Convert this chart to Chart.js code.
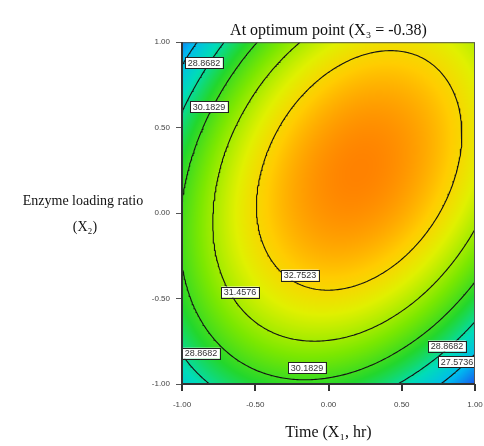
<!DOCTYPE html>
<html>
<head>
<meta charset="utf-8">
<script src="https://cdn.jsdelivr.net/npm/chart.js@4.4.1/dist/chart.umd.min.js"></script>
<style>
html, body { margin: 0; padding: 0; background: #fff; }
</style>
</head>
<body>
<canvas id="chart" width="484" height="446"></canvas>
<script>
// response on a 0.25 mesh, X1 (time) across, X2 (enzyme ratio) up
const gridX = [-1, -0.75, -0.5, -0.25, 0, 0.25, 0.5, 0.75, 1];
const gridY = [-1, -0.75, -0.5, -0.25, 0, 0.25, 0.5, 0.75, 1];
// one row per gridY value, bottom row first
const response = [
  [28.10, 29.08, 29.72, 30.01, 29.95, 29.54, 28.77, 27.66, 26.20],
  [29.16, 30.25, 31.00, 31.39, 31.43, 31.13, 30.47, 29.47, 28.11],
  [29.87, 31.07, 31.92, 32.42, 32.57, 32.37, 31.82, 30.92, 29.67],
  [30.23, 31.54, 32.49, 33.10, 33.36, 33.26, 32.82, 32.02, 30.88],
  [30.24, 31.65, 32.72, 33.43, 33.79, 33.80, 33.47, 32.78, 31.74],
  [29.90, 31.42, 32.59, 33.41, 33.88, 34.00, 33.76, 33.18, 32.25],
  [29.21, 30.84, 32.11, 33.04, 33.61, 33.84, 33.71, 33.24, 32.41],
  [28.17, 29.90, 31.29, 32.32, 33.00, 33.33, 33.31, 32.94, 32.22],
  [26.78, 28.62, 30.11, 31.25, 32.03, 32.47, 32.56, 32.30, 31.68]
];
const levels = [27.5736, 28.8682, 30.1829, 31.4576, 32.7523];
const tickVals = [-1, -0.5, 0, 0.5, 1];

// contour labels, placed where the original puts them
const labelText = ['28.8682', '30.1829', '31.4576', '32.7523', '28.8682', '30.1829', '28.8682', '27.5736'];
const labelX = [-0.85, -0.816, -0.604, -0.195, -0.87, -0.147, 0.809, 0.877];
const labelY = [0.88, 0.623, -0.462, -0.363, -0.82, -0.906, -0.778, -0.871];

// colour ramp (value -> rgb)
const colorStops = [
  [26.2, [25, 85, 235]],
  [27.4, [0, 185, 240]],
  [28.6, [0, 220, 185]],
  [29.8, [35, 215, 45]],
  [31.0, [125, 232, 0]],
  [32.2, [225, 240, 0]],
  [33.0, [255, 205, 0]],
  [34.0, [255, 130, 0]]
];

// pad the mesh by one on every side (quadratic extrapolation) for the cubic smoothing
function padGrid(g) {
  const rows = g.map(function(r) {
    const n = r.length;
    return [3*r[0] - 3*r[1] + r[2]].concat(r, [3*r[n-1] - 3*r[n-2] + r[n-3]]);
  });
  const m = rows.length;
  const first = rows[0].map(function(v, i) { return 3*v - 3*rows[1][i] + rows[2][i]; });
  const last = rows[m-1].map(function(v, i) { return 3*v - 3*rows[m-2][i] + rows[m-3][i]; });
  return [first].concat(rows, [last]);
}
const padded = padGrid(response);

function cr(p0, p1, p2, p3, t) {
  return 0.5 * (2*p1 + (p2 - p0)*t + (2*p0 - 5*p1 + 4*p2 - p3)*t*t + (3*p1 - p0 - 3*p2 + p3)*t*t*t);
}

function valueAt(x, y) {
  const step = gridX[1] - gridX[0];
  const gx = (x - gridX[0]) / step, gy = (y - gridY[0]) / step;
  const i = Math.max(0, Math.min(Math.floor(gx), gridX.length - 2));
  const j = Math.max(0, Math.min(Math.floor(gy), gridY.length - 2));
  const tx = gx - i, ty = gy - j;
  const col = [];
  for (let k = 0; k < 4; k++) {
    const r = padded[j + k];
    col.push(cr(r[i], r[i+1], r[i+2], r[i+3], tx));
  }
  return cr(col[0], col[1], col[2], col[3], ty);
}

function colorFor(v) {
  if (v <= colorStops[0][0]) return colorStops[0][1];
  for (let k = 1; k < colorStops.length; k++) {
    if (v <= colorStops[k][0]) {
      const a = colorStops[k-1], b = colorStops[k];
      const t = (v - a[0]) / (b[0] - a[0]);
      return [0, 1, 2].map(function(c) { return a[1][c] + (b[1][c] - a[1][c]) * t; });
    }
  }
  return colorStops[colorStops.length - 1][1];
}

// fine mesh for tracing the contour lines
const N = 160;
const x0 = gridX[0], x1 = gridX[gridX.length - 1];
const y0 = gridY[0], y1 = gridY[gridY.length - 1];
function mx(i) { return x0 + i * (x1 - x0) / N; }
function my(j) { return y0 + j * (y1 - y0) / N; }
const mesh = [];
for (let j = 0; j <= N; j++) {
  mesh.push([]);
  for (let i = 0; i <= N; i++) mesh[j].push(valueAt(mx(i), my(j)));
}

function traceLevel(L) {
  const adj = {};
  const link = function(a, b) {
    (adj[a] = adj[a] || []).push(b);
    (adj[b] = adj[b] || []).push(a);
  };
  const up = function(v) { return v >= L; };
  for (let j = 0; j < N; j++) {
    for (let i = 0; i < N; i++) {
      const bl = mesh[j][i], br = mesh[j][i+1], tr = mesh[j+1][i+1], tl = mesh[j+1][i];
      const eB = 'h' + i + '_' + j, eR = 'v' + (i+1) + '_' + j, eT = 'h' + i + '_' + (j+1), eL = 'v' + i + '_' + j;
      const hits = [];
      if (up(bl) !== up(br)) hits.push(eB);
      if (up(br) !== up(tr)) hits.push(eR);
      if (up(tl) !== up(tr)) hits.push(eT);
      if (up(bl) !== up(tl)) hits.push(eL);
      if (hits.length === 2) link(hits[0], hits[1]);
      else if (hits.length === 4) {
        const c = (bl + br + tr + tl) / 4;
        if (up(c) === up(bl)) { link(eB, eR); link(eT, eL); }
        else { link(eB, eL); link(eR, eT); }
      }
    }
  }
  const pointOf = function(id) {
    const p = id.slice(1).split('_').map(Number);
    const i = p[0], j = p[1];
    if (id[0] === 'h') {
      const t = (L - mesh[j][i]) / (mesh[j][i+1] - mesh[j][i]);
      return { x: mx(i + t), y: my(j) };
    }
    const t = (L - mesh[j][i]) / (mesh[j+1][i] - mesh[j][i]);
    return { x: mx(i), y: my(j + t) };
  };
  const used = new Set();
  const walk = function(start) {
    const path = [start];
    used.add(start);
    let cur = start;
    while (true) {
      const nxt = adj[cur].find(function(k) { return !used.has(k); });
      if (!nxt) break;
      used.add(nxt);
      path.push(nxt);
      cur = nxt;
    }
    return path;
  };
  const lines = [];
  const ids = Object.keys(adj);
  ids.forEach(function(k) { if (adj[k].length === 1 && !used.has(k)) lines.push(walk(k)); });
  ids.forEach(function(k) {
    if (!used.has(k)) { const p = walk(k); p.push(p[0]); lines.push(p); }
  });
  return lines.map(function(l) { return l.map(pointOf); });
}

const datasets = [];
levels.forEach(function(L) {
  traceLevel(L).forEach(function(line) {
    datasets.push({
      data: line,
      showLine: true,
      borderColor: '#141414',
      borderWidth: 1.1,
      pointRadius: 0,
      fill: false,
      tension: 0
    });
  });
});

const heatPlugin = {
  id: 'heat',
  beforeDatasetsDraw: function(chart) {
    const a = chart.chartArea, sx = chart.scales.x, sy = chart.scales.y;
    const w = Math.round(a.right - a.left), h = Math.round(a.bottom - a.top);
    const off = document.createElement('canvas');
    off.width = w; off.height = h;
    const octx = off.getContext('2d');
    const img = octx.createImageData(w, h);
    for (let py = 0; py < h; py++) {
      const vy = sy.getValueForPixel(a.top + py + 0.5);
      for (let px = 0; px < w; px++) {
        const vx = sx.getValueForPixel(a.left + px + 0.5);
        const c = colorFor(valueAt(vx, vy));
        const k = (py * w + px) * 4;
        img.data[k] = c[0]; img.data[k+1] = c[1]; img.data[k+2] = c[2]; img.data[k+3] = 255;
      }
    }
    octx.putImageData(img, 0, 0);
    chart.ctx.drawImage(off, a.left, a.top);
  }
};

const labelPlugin = {
  id: 'contourLabels',
  afterDatasetsDraw: function(chart) {
    const ctx = chart.ctx, a = chart.chartArea, sx = chart.scales.x, sy = chart.scales.y;
    ctx.save();
    ctx.beginPath();
    ctx.rect(a.left, a.top, a.right - a.left, a.bottom - a.top);
    ctx.clip();
    ctx.font = '9px "Liberation Sans", Arial, sans-serif';
    ctx.textAlign = 'center';
    ctx.textBaseline = 'middle';
    labelText.forEach(function(t, i) {
      const px = sx.getPixelForValue(labelX[i]);
      const py = sy.getPixelForValue(labelY[i]);
      const w = ctx.measureText(t).width + 5;
      const h = 11;
      ctx.fillStyle = '#fff';
      ctx.fillRect(px - w/2, py - h/2, w, h);
      ctx.strokeStyle = '#222';
      ctx.lineWidth = 1;
      ctx.strokeRect(Math.round(px - w/2) + 0.5, Math.round(py - h/2) + 0.5, Math.round(w), h);
      ctx.fillStyle = '#333';
      ctx.fillText(t, px, py + 0.5);
    });
    ctx.restore();
  }
};

const framePlugin = {
  id: 'frame',
  afterDraw: function(chart) {
    const ctx = chart.ctx, a = chart.chartArea;
    ctx.save();
    ctx.strokeStyle = '#555';
    ctx.lineWidth = 1;
    ctx.strokeRect(a.left + 0.5, a.top + 0.5, a.right - a.left - 1, a.bottom - a.top - 1);
    ctx.strokeStyle = '#333';
    ctx.lineWidth = 2;
    ctx.beginPath();
    ctx.moveTo(a.left, a.top);
    ctx.lineTo(a.left, a.bottom);
    ctx.lineTo(a.right, a.bottom);
    ctx.stroke();
    // y axis title, written flat like the original
    ctx.fillStyle = '#111';
    ctx.font = '14px "Liberation Serif", "Times New Roman", serif';
    ctx.textAlign = 'center';
    ctx.textBaseline = 'middle';
    ctx.fillText('Enzyme loading ratio', 83, 201);
    ctx.fillText('(X\u2082)', 85, 227);
    ctx.restore();
  }
};

const ctx = document.getElementById('chart').getContext('2d');
const chart = new Chart(ctx, {
  type: 'scatter',
  data: { datasets: datasets },
  options: {
    responsive: false,
    devicePixelRatio: 1,
    animation: false,
    events: [],
    layout: { padding: { left: 0, right: 9, top: 0, bottom: 0 } },
    scales: {
      x: {
        type: 'linear',
        min: -1,
        max: 1,
        afterBuildTicks: function(s) { s.ticks = tickVals.map(function(v) { return { value: v }; }); },
        afterFit: function(s) { s.height = 62; s.paddingRight = 0; s.paddingLeft = 0; },
        ticks: {
          callback: function(v) { return Number(v).toFixed(2); },
          font: { family: '"Liberation Sans", Arial, sans-serif', size: 8 },
          color: '#444',
          maxRotation: 0,
          padding: 9
        },
        grid: { drawOnChartArea: false, drawTicks: true, tickLength: 7, color: '#333', lineWidth: 2 },
        border: { display: false },
        title: {
          display: true,
          text: 'Time (X\u2081, hr)',
          font: { family: '"Liberation Serif", "Times New Roman", serif', size: 16 },
          color: '#111',
          padding: { top: 4, bottom: 4 }
        }
      },
      y: {
        type: 'linear',
        min: -1,
        max: 1,
        afterBuildTicks: function(s) { s.ticks = tickVals.map(function(v) { return { value: v }; }); },
        afterFit: function(s) { s.width = 182; },
        ticks: {
          callback: function(v) { return Number(v).toFixed(2); },
          font: { family: '"Liberation Sans", Arial, sans-serif', size: 8 },
          color: '#444',
          padding: 6
        },
        grid: { drawOnChartArea: false, drawTicks: true, tickLength: 6, color: '#555', lineWidth: 1 },
        border: { display: false }
      }
    },
    plugins: {
      legend: { display: false },
      tooltip: { enabled: false },
      title: {
        display: true,
        fullSize: false,
        text: 'At optimum point (X\u2083 = -0.38)',
        font: { family: '"Liberation Serif", "Times New Roman", serif', size: 16, weight: 'normal' },
        color: '#111',
        padding: { top: 21, bottom: 2 }
      }
    }
  },
  plugins: [heatPlugin, labelPlugin, framePlugin]
});
</script>
</body>
</html>
